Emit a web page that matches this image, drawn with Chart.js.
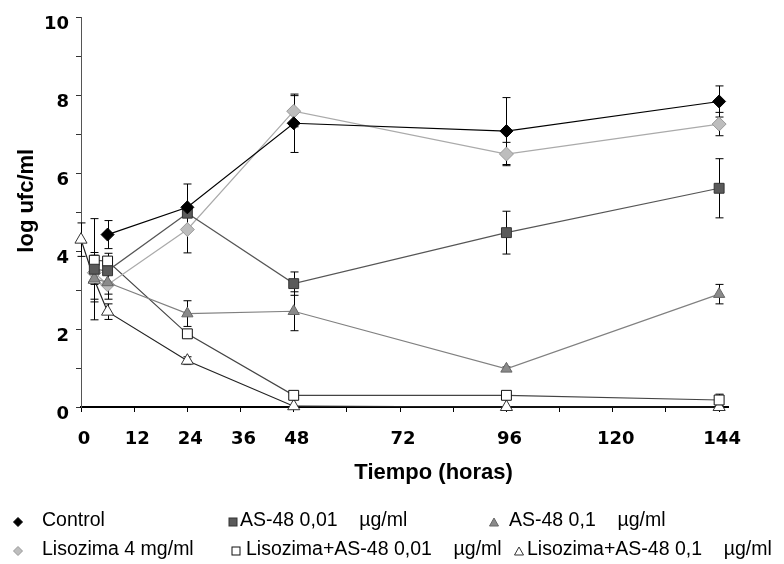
<!DOCTYPE html>
<html><head><meta charset="utf-8">
<script src="https://cdn.jsdelivr.net/npm/chart.js@4.4.1/dist/chart.umd.min.js"></script>
<style>
html,body{margin:0;padding:0;background:#fff;}
#wrap{position:relative;width:784px;height:564px;overflow:hidden;}
#c{position:absolute;left:0;top:0;}
.lg{position:absolute;font-family:"Liberation Sans",Arial,sans-serif;font-size:19.5px;color:#000;white-space:pre;line-height:22px;}
.mk{position:absolute;}
</style></head><body>
<div id="wrap"><canvas id="c" width="784" height="564"></canvas><div id="legend"></div></div>
<script>
// ---- data ----
const times = [0, 3, 6, 24, 48, 96, 144];
const seriesNames = ["Control", "AS-48 0,01    \u00b5g/ml", "AS-48 0,1    \u00b5g/ml", "Lisozima 4 mg/ml", "Lisozima+AS-48 0,01    \u00b5g/ml", "Lisozima+AS-48 0,1    \u00b5g/ml"];
const control      = [null, null, 4.43, 5.13, 7.29, 7.09, 7.85];
const controlErr   = [null, null, 0.36, 0.60, 0.75, 0.86, 0.40];
const as48_001     = [null, 3.54, 3.50, 4.98, 3.17, 4.48, 5.62];
const as48_001Err  = [null, 1.30, 0.30, 0.10, 0.30, 0.55, 0.76];
const as48_01      = [null, 3.30, 3.20, 2.40, 2.46, 0.98, 2.90];
const as48_01Err   = [null, 0.60, 0.30, 0.33, 0.50, 0.05, 0.25];
const lisozima     = [null, 3.45, 3.14, 4.56, 7.60, 6.50, 7.27];
const lisozimaErr  = [null, 0.30, 0.37, 0.60, 0.40, 0.30, 0.30];
const lisAs001     = [null, 3.77, 3.75, 1.88, 0.30, 0.30, 0.18];
const lisAs001Err  = [null, 0.20, 0.20, 0.10, 0.05, 0.05, 0.15];
const lisAs01      = [4.30, 3.27, 2.45, 1.19, 0.02, 0.00, 0.00];
const lisAs01Err   = [0.43, 0.50, 0.20, 0.10, 0.00, 0.00, 0.00];
const xTickValues = [0, 12, 24, 36, 48, 60, 72, 84, 96, 108, 120, 132, 144];
const xTickLabels = [0, 12, 24, 36, 48, 72, 96, 120, 144];
const yTickValues = [0, 1, 2, 3, 4, 5, 6, 7, 8, 9, 10];
const yTickLabels = [0, 2, 4, 6, 8, 10];
const xTitle = "Tiempo (horas)";
const yTitle = "log ufc/ml";

// ---- styles ----
const styles = [
  {line:'#000', bg:'#000', border:'#000', shape:'rectRot', r:6.5},
  {line:'#555', bg:'#5a5a5a', border:'#333', shape:'rect', r:7},
  {line:'#808080', bg:'#8a8a8a', border:'#666', shape:'triangle', r:6.5},
  {line:'#aaa', bg:'#bdbdbd', border:'#999', shape:'rectRot', r:7},
  {line:'#444', bg:'#fff', border:'#111', shape:'rect', r:7},
  {line:'#222', bg:'#fff', border:'#333', shape:'triangle', r:7}
];
const values = [control, as48_001, as48_01, lisozima, lisAs001, lisAs01];
const errs = [controlErr, as48_001Err, as48_01Err, lisozimaErr, lisAs001Err, lisAs01Err];

function pts(arr){ const o=[]; arr.forEach((v,i)=>{ if(v!==null) o.push({x:times[i], y:v}); }); return o; }
function errPts(arr, e){ const o=[]; arr.forEach((v,i)=>{ if(v!==null) o.push(e[i]); }); return o; }

const datasets = values.map((v,i)=>({
  label: seriesNames[i],
  data: pts(v),
  errs: errPts(v, errs[i]),
  borderColor: styles[i].line,
  borderWidth: 1.2,
  pointStyle: styles[i].shape,
  pointRadius: styles[i].r,
  pointBackgroundColor: styles[i].bg,
  pointBorderColor: styles[i].border,
  pointBorderWidth: 1,
  tension: 0,
  clip: false
}));

const errorBars = {
  id:'errorBars',
  beforeDatasetsDraw(chart){
    const ctx = chart.ctx, ys = chart.scales.y;
    ctx.save();
    ctx.strokeStyle = '#000'; ctx.lineWidth = 1;
    chart.data.datasets.forEach((ds, di)=>{
      const meta = chart.getDatasetMeta(di);
      meta.data.forEach((pt, j)=>{
        const e = ds.errs[j]; if(!e) return;
        const v = ds.data[j].y;
        const y1 = ys.getPixelForValue(v+e), y2 = ys.getPixelForValue(Math.max(0,v-e));
        const x = Math.round(pt.x)+0.5;
        ctx.beginPath();
        ctx.moveTo(x,y1); ctx.lineTo(x,y2);
        ctx.moveTo(x-4,y1); ctx.lineTo(x+4,y1);
        ctx.moveTo(x-4,y2); ctx.lineTo(x+4,y2);
        ctx.stroke();
      });
    });
    ctx.restore();
  }
};

const axisTitles = {
  id:'axisTitles',
  afterDraw(chart){
    const ctx = chart.ctx, a = chart.chartArea;
    ctx.save();
    ctx.fillStyle = '#000';
    ctx.font = 'bold 22px "Liberation Sans", Arial, sans-serif';
    ctx.textAlign = 'center'; ctx.textBaseline = 'middle';
    ctx.fillText(xTitle, a.left + (a.right - a.left)*0.545, a.bottom + 66);
    ctx.translate(27, a.top + (a.bottom - a.top)*0.47);
    ctx.rotate(-Math.PI/2);
    ctx.fillText(yTitle, 0, 0);
    ctx.restore();
  }
};

const tickFont = {family:'"DejaVu Sans", sans-serif', weight:'bold', size:18};

new Chart(document.getElementById('c'), {
  type:'line',
  data:{ datasets },
  options:{
    responsive:false, animation:false,
    layout:{padding:{left:0, right:56, top:12, bottom:0}},
    plugins:{legend:{display:false}, tooltip:{enabled:false}},
    elements:{line:{fill:false}},
    scales:{
      x:{
        type:'linear', min:0, max:146,
        afterBuildTicks(s){ s.ticks = xTickValues.map(v=>({value:v})); },
        afterFit(s){ s.height = 157; },
        ticks:{autoSkip:false, maxRotation:0, padding:17, labelOffset:3, color:'#000', font:tickFont,
               callback:(v)=> xTickLabels.includes(v) ? String(v) : ''},
        grid:{drawOnChartArea:false, drawTicks:true, tickLength:5, color:'#000', lineWidth:1},
        border:{color:'#000', width:2}
      },
      y:{
        type:'linear', min:0, max:10,
        afterBuildTicks(s){ s.ticks = yTickValues.map(v=>({value:v})); },
        afterFit(s){ s.width = 81; },
        ticks:{padding:7, labelOffset:7, color:'#000', font:tickFont,
               callback:(v)=> yTickLabels.includes(v) ? String(v) : ''},
        grid:{drawOnChartArea:false, drawTicks:true, tickLength:5, color:'#333', lineWidth:1},
        border:{color:'#555', width:1}
      }
    }
  },
  plugins:[errorBars, axisTitles]
});

// ---- HTML legend ----
const legendPos = [
  {mx:18, tx:42, y:519}, {mx:233, tx:240, y:519}, {mx:494, tx:509, y:519},
  {mx:18, tx:42, y:548}, {mx:236, tx:246, y:548}, {mx:519, tx:527, y:548}
];
function markerSVG(st){
  const s = 10, c = 5;
  let shape;
  if(st.shape==='rectRot') shape = `<polygon points="${c},0.5 ${s-0.5},${c} ${c},${s-0.5} 0.5,${c}" fill="${st.bg}" stroke="${st.border}" stroke-width="1"/>`;
  else if(st.shape==='rect') shape = `<rect x="1" y="1" width="8" height="8" fill="${st.bg}" stroke="${st.border}" stroke-width="1"/>`;
  else shape = `<polygon points="${c},1 ${s-0.5},${s-1} 0.5,${s-1}" fill="${st.bg}" stroke="${st.border}" stroke-width="1"/>`;
  return `<svg width="${s}" height="${s}" viewBox="0 0 ${s} ${s}">${shape}</svg>`;
}
const lg = document.getElementById('legend');
seriesNames.forEach((name,i)=>{
  const p = legendPos[i];
  const m = document.createElement('div'); m.className='mk';
  m.style.left = (p.mx-5)+'px'; m.style.top = (p.y-6)+'px';
  m.innerHTML = markerSVG(styles[i]);
  lg.appendChild(m);
  const t = document.createElement('div'); t.className='lg';
  t.style.left = p.tx+'px'; t.style.top = (p.y-11)+'px';
  t.textContent = name;
  lg.appendChild(t);
});
</script>
</body></html>
